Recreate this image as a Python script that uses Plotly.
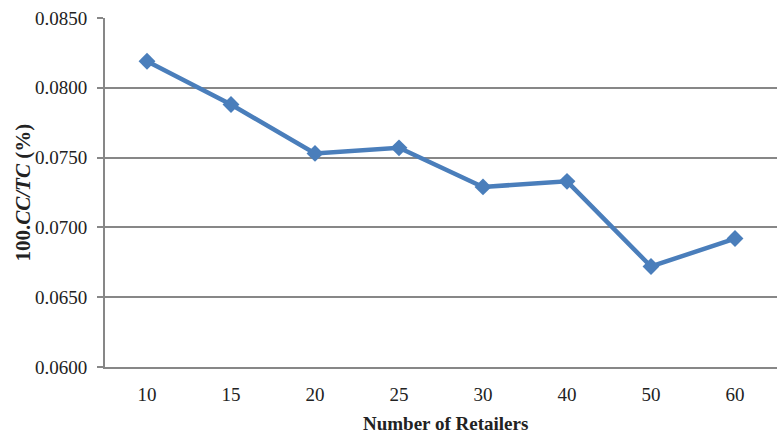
import plotly.graph_objects as go

# Number of retailers (category axis) and the resulting cost ratio
retailers = ["10", "15", "20", "25", "30", "40", "50", "60"]
cost_ratio = [0.0819, 0.0788, 0.0753, 0.0757, 0.0729, 0.0733, 0.0672, 0.0692]
y_ticks = [0.060, 0.065, 0.070, 0.075, 0.080, 0.085]
y_tick_labels = ["0.0600", "0.0650", "0.0700", "0.0750", "0.0800", "0.0850"]

LINE_BLUE = "#4A7EBB"
GRID_GREY = "#878787"
SERIF = "Liberation Serif"
TEXT = "#222222"

W, H = 777, 440
L, R, T, B = 105, 0, 18, 72.5
plot_w = W - L - R
plot_h = H - T - B

fig = go.Figure(
    go.Scatter(
        x=retailers,
        y=cost_ratio,
        mode="lines+markers",
        line=dict(color=LINE_BLUE, width=4.5),
        marker=dict(symbol="diamond", size=13, color=LINE_BLUE),
        showlegend=False,
        cliponaxis=False,
    )
)

fig.update_layout(
    width=W,
    height=H,
    margin=dict(l=L, r=R, t=T, b=B),
    paper_bgcolor="white",
    plot_bgcolor="white",
    font=dict(family=SERIF, color=TEXT, size=19),
    xaxis=dict(
        type="category",
        range=[-0.5, 7.5],
        showgrid=False,
        showline=True,
        linecolor=GRID_GREY,
        linewidth=2,
        ticks="",
        ticklabelstandoff=9,
        tickfont=dict(family=SERIF, size=19, color=TEXT),
        zeroline=False,
    ),
    yaxis=dict(
        range=[0.060, 0.085],
        tickvals=y_ticks,
        ticktext=y_tick_labels,
        showgrid=True,
        gridcolor=GRID_GREY,
        gridwidth=2,
        showline=True,
        linecolor=GRID_GREY,
        linewidth=2,
        ticks="outside",
        ticklen=6,
        tickcolor=GRID_GREY,
        tickwidth=2,
        ticklabelstandoff=6,
        tickfont=dict(family=SERIF, size=19, color=TEXT),
        zeroline=False,
    ),
)

# x-axis title, centred a little below the tick labels
fig.add_annotation(
    text="<b>Number of Retailers</b>",
    xref="paper", yref="paper",
    x=(445 - L) / plot_w, y=(H - B - 424) / plot_h,
    xanchor="center", yanchor="middle",
    showarrow=False,
    font=dict(family=SERIF, size=19, color=TEXT),
)

# rotated y-axis title
fig.add_annotation(
    text="<b>100.<i>CC/TC</i> (%)</b>",
    xref="paper", yref="paper",
    x=(22 - L) / plot_w, y=0.5,
    xanchor="center", yanchor="middle",
    textangle=-90,
    showarrow=False,
    font=dict(family=SERIF, size=21, color=TEXT),
)

fig.write_html("out.html")
